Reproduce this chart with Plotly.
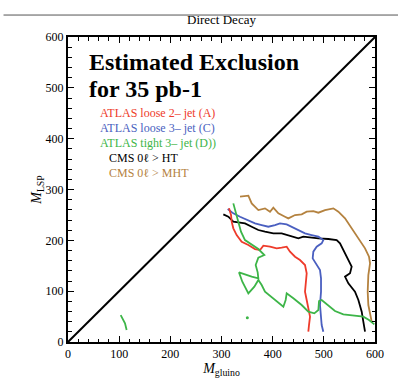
import plotly.graph_objects as go

# ---- data ----
diag_x = [0, 600]
diag_y = [0, 600]

red_x = [314.7, 318.6, 319.9, 323.1, 329.6, 339.4, 352.5, 365.5, 375.3, 381.8, 394.8, 407.8, 417.6, 427.4, 433.9, 443.7, 453.4, 463.2, 466.5, 464.5, 463.2, 466.5, 469.7, 473.0, 471.0, 469.7]
red_y = [262.9, 249.8, 236.7, 223.6, 210.4, 197.3, 190.8, 182.9, 181.0, 189.5, 187.5, 184.2, 185.5, 187.5, 177.7, 167.8, 161.3, 151.4, 135.1, 118.6, 99.0, 82.6, 66.2, 49.8, 33.4, 20.3]

blue_x = [312.1, 323.1, 336.2, 349.2, 365.5, 378.5, 391.5, 404.6, 414.3, 427.4, 437.1, 450.2, 463.2, 476.2, 489.3, 499.0, 495.8, 486.0, 479.5, 478.2, 486.0, 492.5, 494.5, 494.5, 492.5, 494.5, 495.8, 499.0]
blue_y = [261.6, 253.1, 246.5, 240.0, 233.4, 230.1, 226.8, 230.1, 233.4, 231.4, 226.8, 220.3, 213.7, 210.4, 207.2, 200.6, 194.1, 187.5, 177.7, 164.5, 151.4, 141.6, 125.2, 99.0, 72.7, 46.5, 33.4, 20.3]

green_x = [323.1, 327.7, 332.9, 338.1, 345.9, 359.0, 372.0, 383.7, 372.0, 366.8, 370.7, 372.0, 359.0, 334.2, 340.7, 352.5, 364.2, 372.0, 378.5, 385.0, 401.3, 420.9, 425.4, 427.4, 440.4, 456.7, 469.7, 481.4, 489.3, 490.6, 495.8, 508.8, 521.8, 538.1, 560.9, 577.2, 588.3, 598.7]
green_y = [272.7, 256.3, 236.7, 217.0, 200.6, 190.8, 182.9, 171.1, 165.9, 151.4, 137.0, 125.2, 128.5, 137.0, 118.6, 95.7, 108.8, 121.9, 112.1, 99.0, 85.9, 69.5, 82.6, 95.7, 85.9, 72.7, 59.6, 56.4, 62.9, 80.6, 82.6, 71.4, 61.0, 54.4, 51.1, 49.8, 43.2, 34.7]
green2_x = [103.0, 108.0, 111.4, 114.6]
green2_y = [53.0, 43.0, 36.8, 23.6]
green3_x = [350.5]
green3_y = [47.8]

black_x = [303.6, 313.4, 323.1, 332.9, 345.9, 359.0, 372.0, 385.0, 401.3, 417.6, 427.4, 440.4, 450.2, 459.9, 473.0, 489.3, 508.8, 525.1, 531.6, 538.1, 547.9, 554.4, 551.2, 541.4, 547.9, 560.9, 567.5, 574.0, 577.2, 580.5]
black_y = [251.1, 246.5, 236.7, 235.4, 233.4, 226.8, 220.3, 217.0, 213.7, 213.7, 210.4, 207.2, 203.9, 207.2, 205.2, 203.9, 202.6, 200.6, 194.1, 181.0, 164.5, 148.2, 135.1, 128.5, 115.4, 99.0, 82.6, 59.6, 40.0, 20.3]

brown_x = [336.2, 352.5, 359.0, 372.0, 385.0, 394.8, 401.3, 411.1, 424.1, 430.6, 443.7, 456.7, 466.5, 479.5, 489.3, 502.3, 518.6, 528.4, 541.4, 554.4, 567.5, 580.5, 588.3, 590.3, 587.0, 585.7, 587.0, 590.3, 593.5]
brown_y = [285.9, 287.8, 272.7, 259.6, 262.9, 256.3, 264.2, 253.1, 246.5, 243.2, 249.8, 251.1, 256.3, 257.6, 254.4, 259.6, 262.9, 256.3, 243.2, 223.6, 203.9, 184.2, 167.8, 154.7, 131.8, 99.0, 72.7, 53.1, 40.0]

legend_labels = ["ATLAS loose 2\u2013 jet (A)", "ATLAS loose 3\u2013 jet (C)",
                 "ATLAS tight 3\u2013 jet (D))", "CMS 0\u2113 > HT", "CMS 0\u2113 > MHT"]
legend_x = [58, 58, 58, 76, 76]
legend_y = [450, 421, 392, 362, 333]

RED = "#ee3b2b"
BLUE = "#4a5fc0"
GREEN = "#3db548"
BLACK = "#000000"
BROWN = "#b4823f"
legend_colors = [RED, BLUE, GREEN, BLACK, BROWN]

SERIF = "Liberation Serif"

fig = go.Figure()
fig.add_trace(go.Scatter(x=diag_x, y=diag_y, mode="lines", line=dict(color="black", width=2)))
for xs, ys, c in [(brown_x, brown_y, BROWN), (black_x, black_y, BLACK), (blue_x, blue_y, BLUE),
                  (red_x, red_y, RED), (green_x, green_y, GREEN), (green2_x, green2_y, GREEN)]:
    fig.add_trace(go.Scatter(x=xs, y=ys, mode="lines", line=dict(color=c, width=1.8)))
fig.add_trace(go.Scatter(x=green3_x, y=green3_y, mode="markers", marker=dict(color=GREEN, size=3)))

ann = [
    dict(x=37, y=551, xref="x", yref="y", text="<b>Estimated Exclusion</b>", showarrow=False,
         xanchor="left", yanchor="middle", font=dict(family=SERIF, size=24, color="black")),
    dict(x=37, y=498, xref="x", yref="y", text="<b>for 35 pb-1</b>", showarrow=False,
         xanchor="left", yanchor="middle", font=dict(family=SERIF, size=24, color="black")),
    dict(x=0.5, y=1.056, xref="paper", yref="paper", text="Direct Decay", showarrow=False,
         xanchor="center", yanchor="middle", font=dict(family=SERIF, size=13, color="black")),
]
for t, lx, ly, c in zip(legend_labels, legend_x, legend_y, legend_colors):
    ann.append(dict(x=lx, y=ly, xref="x", yref="y", text=t, showarrow=False, xanchor="left",
                    yanchor="middle", font=dict(family=SERIF, size=12, color=c)))

axis_common = dict(
    range=[0, 600], dtick=100, tick0=0, ticks="inside", ticklen=6, tickwidth=1.2, tickcolor="black",
    showline=True, linecolor="black", linewidth=2, mirror="allticks", showgrid=False, zeroline=False,
    tickfont=dict(family=SERIF, size=12, color="black"),
    minor=dict(dtick=20, ticks="inside", ticklen=3.5, tickwidth=1, tickcolor="black", showgrid=False),
)

fig.update_layout(
    width=398, height=389,
    margin=dict(l=68, r=23, t=37, b=47),
    paper_bgcolor="white", plot_bgcolor="white",
    showlegend=False,
    font=dict(family=SERIF),
    annotations=ann,
    shapes=[dict(type="line", xref="paper", yref="paper", x0=-0.21, x1=1.08, y0=1.072, y1=1.072,
                 line=dict(color="#555555", width=1))],
    xaxis=dict(axis_common, title=dict(text="<i>M</i><sub>gluino</sub>", standoff=2,
                                       font=dict(family=SERIF, size=14, color="black"))),
    yaxis=dict(axis_common, title=dict(text="<i>M</i><sub>LSP</sub>", standoff=0,
                                       font=dict(family=SERIF, size=14, color="black"))),
)

fig.write_html("out.html")
